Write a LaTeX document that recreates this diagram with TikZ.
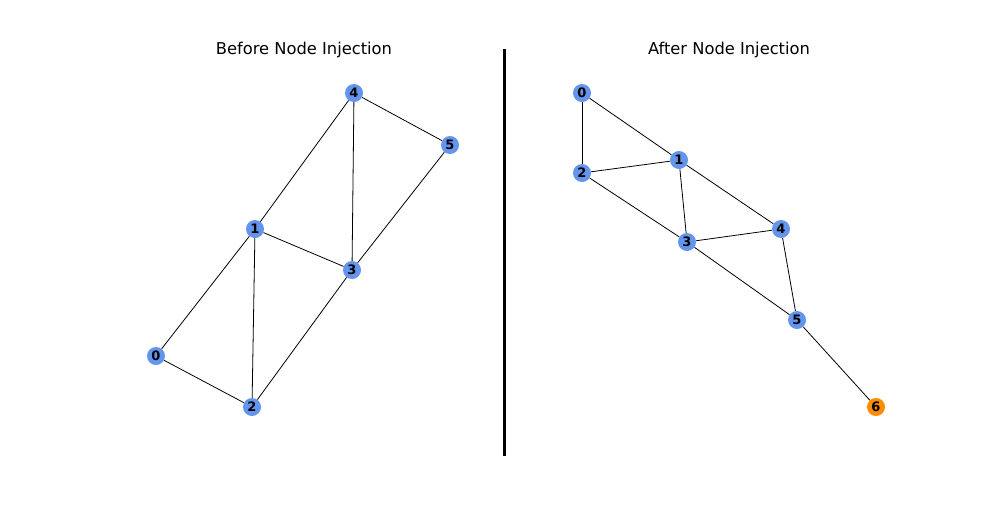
\documentclass[tikz,border=0pt]{standalone}
\usepackage{fontspec}
\setmainfont{DejaVu Sans}
\definecolor{nodeblue}{HTML}{6495ED}
\definecolor{nodeorange}{HTML}{FF8C00}
\begin{document}
\begin{tikzpicture}[x=1pt,y=-1pt,
  vtx/.style={circle,fill=nodeblue,draw=none,minimum size=18pt,inner sep=0pt,
    font=\fontsize{13}{13}\selectfont\bfseries},
  newvtx/.style={vtx,fill=nodeorange},
  edge/.style={draw=black,line width=0.8pt},
  title/.style={font=\fontsize{16.3}{16.3}\selectfont,anchor=base}]
\useasboundingbox (0,0) rectangle (1008,504);
% titles
\node[title] (t1) at (304,54) {Before Node Injection};
\node[title] (t2) at (729,54) {After Node Injection};
% divider
\coordinate (dtop) at (504.5,49);
\coordinate (dbot) at (504.5,456);
\draw[line width=3pt] (dtop) -- (dbot);
% graph before injection
\node[vtx] (a4) at (354,93) {4};
\node[vtx] (a5) at (450,145) {5};
\node[vtx] (a1) at (255,229) {1};
\node[vtx] (a3) at (352,270) {3};
\node[vtx] (a0) at (156,356) {0};
\node[vtx] (a2) at (252,407) {2};
% graph after injection
\node[vtx] (b0) at (582,93) {0};
\node[vtx] (b1) at (679,160) {1};
\node[vtx] (b2) at (582,173) {2};
\node[vtx] (b4) at (781,229) {4};
\node[vtx] (b3) at (687,242) {3};
\node[vtx] (b5) at (797,320) {5};
\node[newvtx] (b6) at (876,407) {6};
% edges
\foreach \u/\v in {a4/a5,a4/a1,a4/a3,a5/a3,a1/a3,a1/a0,a1/a2,a3/a2,a0/a2,
                   b0/b2,b0/b1,b2/b1,b2/b3,b1/b3,b1/b4,b3/b4,b3/b5,b4/b5,b5/b6}
  \draw[edge] (\u) -- (\v);
\end{tikzpicture}
\end{document}
